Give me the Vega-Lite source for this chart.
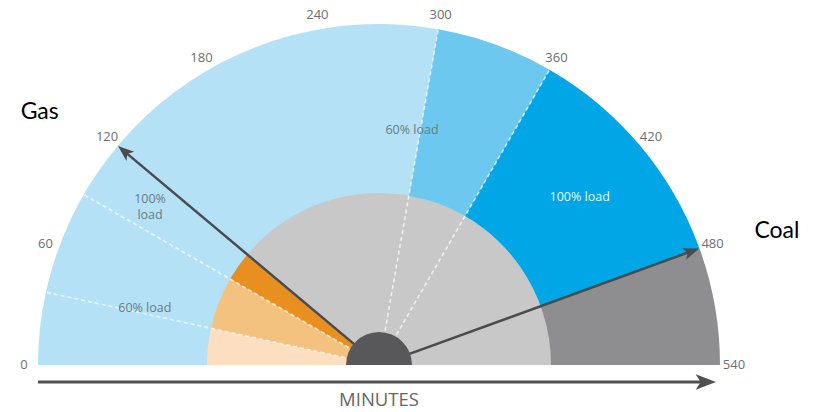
{
  "$schema": "https://vega.github.io/schema/vega-lite/v6.json",
  "width": 815,
  "height": 412,
  "padding": 0,
  "autosize": {"type": "none"},
  "background": "#ffffff",
  "config": {"view": {"stroke": null}, "font": "Open Sans"},
  "datasets": {
    "zones": [
      {"ring": "outer", "zone": "Coal start", "from": 0, "to": 300},
      {"ring": "outer", "zone": "Coal 60%", "from": 300, "to": 360},
      {"ring": "outer", "zone": "Coal 100%", "from": 360, "to": 480},
      {"ring": "outer", "zone": "Coal margin", "from": 480, "to": 540},
      {"ring": "inner", "zone": "Gas start", "from": 0, "to": 37},
      {"ring": "inner", "zone": "Gas 60%", "from": 37, "to": 90},
      {"ring": "inner", "zone": "Gas 100%", "from": 90, "to": 120},
      {"ring": "inner", "zone": "Core", "from": 120, "to": 540},
      {"ring": "hub", "zone": "Hub", "from": 0, "to": 540}
    ],
    "dividers": [{"m": 37}, {"m": 90}, {"m": 300}, {"m": 360}],
    "needles": [{"fuel": "Gas", "m": 120}, {"fuel": "Coal", "m": 480}],
    "ticks": [{"m": 0}, {"m": 60}, {"m": 120}, {"m": 180}, {"m": 240}, {"m": 300}, {"m": 360}, {"m": 420}, {"m": 480}, {"m": 540}],
    "notes": [
      {"label": "60% load", "m": 41, "rr": 241, "side": "gas"},
      {"label": "100%\nload", "m": 108, "rr": 283, "side": "gas"},
      {"label": "60% load", "m": 294, "rr": 237, "side": "coal"},
      {"label": "100% load", "m": 420, "rr": 262, "side": "coal-full"}
    ],
    "fuels": [
      {"label": "Gas", "m": 110, "rr": 423},
      {"label": "Coal", "m": 484, "rr": 420}
    ],
    "axisline": [{"title": "MINUTES", "start": -341, "end": 326, "level": -17, "below": -35, "mid": 0}]
  },
  "layer": [
    {
      "data": {"name": "zones"},
      "transform": [{"filter": "datum.ring == 'outer'"}],
      "mark": {"type": "arc", "outerRadius": 341, "innerRadius": 0},
      "encoding": {
        "x": {"datum": 0, "type": "quantitative", "scale": {"domain": [-379, 436], "nice": false, "zero": false}, "axis": null},
        "y": {"datum": 0, "type": "quantitative", "scale": {"domain": [-47, 365], "nice": false, "zero": false}, "axis": null},
        "theta": {"field": "from", "type": "quantitative", "stack": null, "scale": {"domain": [0, 540], "range": [-1.5707963, 1.5707963]}},
        "theta2": {"field": "to"},
        "color": {
          "field": "zone", "type": "nominal", "legend": null,
          "scale": {
            "domain": ["Coal start", "Coal 60%", "Coal 100%", "Coal margin", "Gas start", "Gas 60%", "Gas 100%", "Core", "Hub"],
            "range": ["#b5e1f6", "#6cc8ef", "#00a6e5", "#8e8e91", "#fbdfc0", "#f4c27f", "#e88f1f", "#c8c8c9", "#58585a"]
          }
        }
      }
    },
    {
      "data": {"name": "zones"},
      "transform": [{"filter": "datum.ring == 'inner'"}],
      "mark": {"type": "arc", "outerRadius": 172, "innerRadius": 0},
      "encoding": {
        "x": {"datum": 0, "type": "quantitative"},
        "y": {"datum": 0, "type": "quantitative"},
        "theta": {"field": "from", "type": "quantitative", "stack": null},
        "theta2": {"field": "to"},
        "color": {"field": "zone", "type": "nominal", "legend": null}
      }
    },
    {
      "data": {"name": "dividers"},
      "transform": [
        {"calculate": "PI * (1 - datum.m / 540)", "as": "phi"},
        {"calculate": "35 * cos(datum.phi)", "as": "x0"},
        {"calculate": "35 * sin(datum.phi)", "as": "y0"},
        {"calculate": "341 * cos(datum.phi)", "as": "x1"},
        {"calculate": "341 * sin(datum.phi)", "as": "y1"}
      ],
      "mark": {"type": "rule", "color": "#ffffff", "strokeWidth": 1.6, "strokeDash": [4, 3], "opacity": 0.7},
      "encoding": {
        "x": {"field": "x0", "type": "quantitative"},
        "y": {"field": "y0", "type": "quantitative"},
        "x2": {"field": "x1"},
        "y2": {"field": "y1"}
      }
    },
    {
      "data": {"name": "needles"},
      "transform": [
        {"calculate": "PI * (1 - datum.m / 540)", "as": "phi"},
        {"calculate": "20 * cos(datum.phi)", "as": "bx"},
        {"calculate": "20 * sin(datum.phi)", "as": "by"},
        {"calculate": "332 * cos(datum.phi)", "as": "tx"},
        {"calculate": "332 * sin(datum.phi)", "as": "ty"}
      ],
      "mark": {"type": "rule", "color": "#4b4b4d", "strokeWidth": 2.5},
      "encoding": {
        "x": {"field": "bx", "type": "quantitative"},
        "y": {"field": "by", "type": "quantitative"},
        "x2": {"field": "tx"},
        "y2": {"field": "ty"}
      }
    },
    {
      "data": {"name": "needles"},
      "transform": [
        {"calculate": "PI * (1 - datum.m / 540)", "as": "phi"},
        {"calculate": "332 * cos(datum.phi)", "as": "hx"},
        {"calculate": "332 * sin(datum.phi)", "as": "hy"},
        {"calculate": "datum.m / 3 - 90", "as": "heading"}
      ],
      "mark": {"type": "point", "filled": true, "opacity": 1, "color": "#4b4b4d", "size": 300, "shape": "M0,-1L0.7,0.85L0,0.4L-0.7,0.85Z"},
      "encoding": {
        "x": {"field": "hx", "type": "quantitative"},
        "y": {"field": "hy", "type": "quantitative"},
        "angle": {"field": "heading", "type": "quantitative", "scale": {"domain": [-180, 180], "range": [-180, 180]}}
      }
    },
    {
      "data": {"name": "zones"},
      "transform": [{"filter": "datum.ring == 'hub'"}],
      "mark": {"type": "arc", "outerRadius": 33, "innerRadius": 0},
      "encoding": {
        "x": {"datum": 0, "type": "quantitative"},
        "y": {"datum": 0, "type": "quantitative"},
        "theta": {"field": "from", "type": "quantitative", "stack": null},
        "theta2": {"field": "to"},
        "color": {"field": "zone", "type": "nominal", "legend": null}
      }
    },
    {
      "data": {"name": "ticks"},
      "mark": {"type": "text", "radius": 355, "fontSize": 13, "color": "#6d6e71", "align": "center", "baseline": "middle"},
      "encoding": {
        "x": {"datum": 0, "type": "quantitative"},
        "y": {"datum": 0, "type": "quantitative"},
        "theta": {"field": "m", "type": "quantitative"},
        "text": {"field": "m", "type": "quantitative"}
      }
    },
    {
      "data": {"name": "notes"},
      "mark": {"type": "text", "fontSize": 12.5, "align": "center", "baseline": "middle", "lineBreak": "\n", "lineHeight": 16},
      "encoding": {
        "x": {"datum": 0, "type": "quantitative"},
        "y": {"datum": 0, "type": "quantitative"},
        "theta": {"field": "m", "type": "quantitative"},
        "radius": {"field": "rr", "type": "quantitative", "scale": {"type": "linear", "domain": [0, 341], "range": [0, 341], "zero": true}},
        "text": {"field": "label", "type": "nominal"},
        "color": {"condition": {"test": "datum.side == 'coal-full'", "value": "#e6f6fd"}, "value": "#6a7b87"}
      }
    },
    {
      "data": {"name": "fuels"},
      "mark": {"type": "text", "font": "Lato", "fontSize": 23, "color": "#000000", "align": "center", "baseline": "middle"},
      "encoding": {
        "x": {"datum": 0, "type": "quantitative"},
        "y": {"datum": 0, "type": "quantitative"},
        "theta": {"field": "m", "type": "quantitative"},
        "radius": {"field": "rr", "type": "quantitative"},
        "text": {"field": "label", "type": "nominal"}
      }
    },
    {
      "data": {"name": "axisline"},
      "mark": {"type": "rule", "color": "#505052", "strokeWidth": 3},
      "encoding": {
        "x": {"field": "start", "type": "quantitative"},
        "x2": {"field": "end"},
        "y": {"field": "level", "type": "quantitative"}
      }
    },
    {
      "data": {"name": "axisline"},
      "mark": {"type": "point", "filled": true, "opacity": 1, "color": "#505052", "size": 480, "angle": 90, "shape": "M0,-1L0.7,0.85L0,0.4L-0.7,0.85Z"},
      "encoding": {
        "x": {"field": "end", "type": "quantitative"},
        "y": {"field": "level", "type": "quantitative"}
      }
    },
    {
      "data": {"name": "axisline"},
      "mark": {"type": "text", "fontSize": 18.5, "color": "#666668", "align": "center", "baseline": "middle"},
      "encoding": {
        "x": {"field": "mid", "type": "quantitative"},
        "y": {"field": "below", "type": "quantitative"},
        "text": {"field": "title", "type": "nominal"}
      }
    }
  ]
}
